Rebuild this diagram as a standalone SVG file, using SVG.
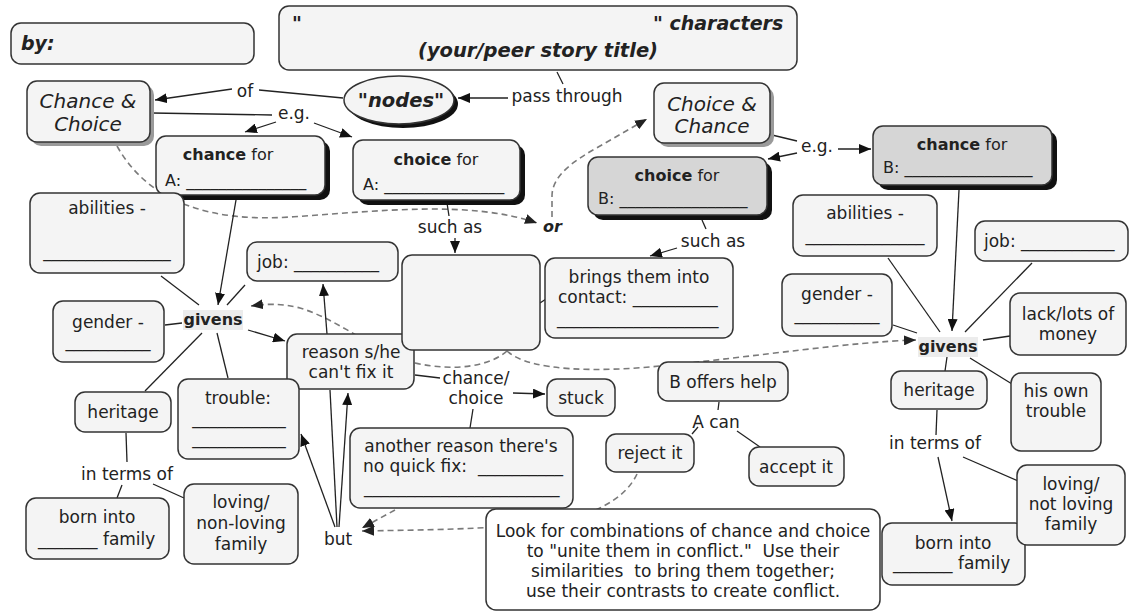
<svg xmlns="http://www.w3.org/2000/svg" width="1129" height="613" viewBox="0 0 1129 613">
<defs>
<marker id="arr" viewBox="0 0 12 10" refX="12" refY="5" markerWidth="12" markerHeight="10" markerUnits="userSpaceOnUse" orient="auto"><path d="M0,0 L12,5 L0,10 z" fill="#111"/></marker>
<marker id="arrd" viewBox="0 0 12 10" refX="12" refY="5" markerWidth="12" markerHeight="10" markerUnits="userSpaceOnUse" orient="auto"><path d="M0,0 L12,5 L0,10 z" fill="#222"/></marker>
</defs>
<style>
.n{fill:#f4f4f4;stroke:#333;stroke-width:1.5}
.gr{fill:#d6d6d6;stroke:#333;stroke-width:1.5}
.w{fill:#fff;stroke:#333;stroke-width:1.5}
.sh{fill:#111}
.ls{fill:#9a9a9a}
text{font-family:"DejaVu Sans",Verdana,sans-serif;font-size:17px;fill:#222}
.c{text-anchor:middle}
.b{font-weight:bold}
.bi{font-weight:bold;font-style:italic}
.it{font-style:italic}
.s16{font-size:16px}
.ln{stroke:#222;stroke-width:1.3;fill:none}
.da{stroke:#7a7a7a;stroke-width:1.6;stroke-dasharray:6 4;fill:none}
</style>
<rect width="1129" height="613" fill="#fff"/>

<g id="connectors">
<path class="da" d="M117,146 C150,205 215,222 290,217 C380,211 470,200 537,223" marker-end="url(#arrd)"/>
<path class="da" d="M552,217 L552,196 C552,175 575,160 600,146 L647,119" marker-end="url(#arrd)"/>
<path class="da" d="M507,351 C490,366 455,372 415,363 C380,355 340,320 300,308 C280,303 265,304 251,306" marker-end="url(#arrd)"/>
<path class="da" d="M507,351 C530,372 600,372 660,366 C760,356 850,342 916,340" marker-end="url(#arrd)"/>
<path class="da" d="M637,474 C625,500 590,518 540,524 C470,530 410,530 362,531" marker-end="url(#arrd)"/>
<path class="da" d="M395,510 L362,528" marker-end="url(#arrd)"/>

<line class="ln" x1="343" y1="98" x2="259" y2="90"/>
<line class="ln" x1="232" y1="89" x2="155" y2="100" marker-end="url(#arr)"/>
<line class="ln" x1="152" y1="113" x2="272" y2="115"/>
<line class="ln" x1="276" y1="122" x2="245" y2="132" marker-end="url(#arr)"/>
<line class="ln" x1="314" y1="123" x2="352" y2="137" marker-end="url(#arr)"/>
<line class="ln" x1="557" y1="72" x2="563" y2="84"/>
<line class="ln" x1="508" y1="98" x2="458" y2="98" marker-end="url(#arr)"/>
<line class="ln" x1="772" y1="135" x2="797" y2="141"/>
<line class="ln" x1="838" y1="149" x2="871" y2="149" marker-end="url(#arr)"/>
<line class="ln" x1="797" y1="153" x2="768" y2="159" marker-end="url(#arr)"/>
<line class="ln" x1="447" y1="203" x2="449" y2="216"/>
<line class="ln" x1="455" y1="238" x2="455" y2="253" marker-end="url(#arr)"/>
<line class="ln" x1="702" y1="220" x2="706" y2="229"/>
<line class="ln" x1="677" y1="248" x2="650" y2="256" marker-end="url(#arr)"/>
<line class="ln" x1="236" y1="200" x2="218" y2="305" marker-end="url(#arr)"/>
<line class="ln" x1="199" y1="305" x2="161" y2="276"/>
<line class="ln" x1="227" y1="305" x2="245" y2="285"/>
<line class="ln" x1="182" y1="323" x2="165" y2="325"/>
<line class="ln" x1="202" y1="333" x2="145" y2="391"/>
<line class="ln" x1="217" y1="333" x2="228" y2="378"/>
<line class="ln" x1="248" y1="330" x2="285" y2="341" marker-end="url(#arr)"/>
<line class="ln" x1="327" y1="334" x2="323" y2="284" marker-end="url(#arr)"/>
<line class="ln" x1="415" y1="375" x2="440" y2="378"/>
<line class="ln" x1="513" y1="393" x2="545" y2="394" marker-end="url(#arr)"/>
<line class="ln" x1="473" y1="409" x2="470" y2="428"/>
<line class="ln" x1="330" y1="390" x2="337" y2="527"/>
<line class="ln" x1="339" y1="527" x2="348" y2="393" marker-end="url(#arr)"/>
<line class="ln" x1="335" y1="527" x2="301" y2="434" marker-end="url(#arr)"/>
<line class="ln" x1="126" y1="433" x2="127" y2="462"/>
<line class="ln" x1="122" y1="485" x2="117" y2="498"/>
<line class="ln" x1="153" y1="484" x2="184" y2="498"/>
<line class="ln" x1="540" y1="303" x2="546" y2="299"/>
<line class="ln" x1="719" y1="402" x2="718" y2="410"/>
<line class="ln" x1="698" y1="427" x2="692" y2="434"/>
<line class="ln" x1="737" y1="431" x2="760" y2="447"/>
<line class="ln" x1="959" y1="190" x2="952" y2="331" marker-end="url(#arr)"/>
<line class="ln" x1="888" y1="258" x2="940" y2="332"/>
<line class="ln" x1="1032" y1="263" x2="965" y2="332"/>
<line class="ln" x1="893" y1="325" x2="917" y2="333"/>
<line class="ln" x1="983" y1="340" x2="1010" y2="336"/>
<line class="ln" x1="970" y1="358" x2="1012" y2="384"/>
<line class="ln" x1="947" y1="357" x2="945" y2="371"/>
<line class="ln" x1="937" y1="410" x2="936" y2="435"/>
<line class="ln" x1="938" y1="457" x2="952" y2="521" marker-end="url(#arr)"/>
<line class="ln" x1="963" y1="457" x2="1018" y2="481"/>
</g>

<g id="by"><rect class="n" x="11" y="23" width="243" height="41" rx="10"/><text class="bi" x="21" y="50" style="font-size:19px">by:</text></g>

<g id="title"><rect class="n" x="279" y="6" width="518" height="64" rx="10"/>
<text class="bi" x="292" y="30" style="font-size:19px">"</text>
<text class="bi" x="653" y="30" style="font-size:19px">" characters</text>
<text class="bi c" x="538" y="57" style="font-size:19.5px">(your/peer story title)</text></g>

<g id="chance-choice"><rect class="ls" x="31" y="85" width="123" height="61" rx="10"/><rect class="n" x="27" y="81" width="123" height="61" rx="10"/>
<text class="it c" x="88" y="108" style="font-size:20px">Chance &amp;</text><text class="it c" x="88" y="131" style="font-size:20px">Choice</text></g>

<g id="nodes"><ellipse class="sh" cx="403" cy="104" rx="55" ry="24"/><ellipse class="n" cx="399" cy="100" rx="55" ry="24"/>
<text class="bi c" x="401" y="107" style="font-size:19.5px">"nodes"</text></g>

<g id="choice-chance"><rect class="ls" x="658" y="87" width="116" height="60" rx="10"/><rect class="n" x="654" y="83" width="116" height="60" rx="10"/>
<text class="it c" x="712" y="111" style="font-size:20px">Choice &amp;</text><text class="it c" x="712" y="133" style="font-size:20px">Chance</text></g>

<g id="chance-A"><rect class="sh" x="161" y="141" width="169" height="59" rx="10"/><rect class="n" x="156" y="136" width="169" height="59" rx="10"/>
<text class="c s16" x="228" y="160"><tspan class="b">chance</tspan> for</text><text class="s16" x="165" y="186">A: _______________</text></g>

<g id="choice-A"><rect class="sh" x="358" y="145" width="167" height="60" rx="10"/><rect class="n" x="353" y="140" width="167" height="60" rx="10"/>
<text class="c s16" x="436" y="165"><tspan class="b">choice</tspan> for</text><text class="s16" x="363" y="190">A: _______________</text></g>

<g id="choice-B"><rect class="sh" x="593" y="162" width="179" height="58" rx="10"/><rect class="gr" x="588" y="157" width="179" height="58" rx="10"/>
<text class="c s16" x="677" y="181"><tspan class="b">choice</tspan> for</text><text class="s16" x="598" y="204">B: ________________</text></g>

<g id="chance-B"><rect class="sh" x="878" y="131" width="179" height="59" rx="10"/><rect class="gr" x="873" y="126" width="179" height="59" rx="10"/>
<text class="c s16" x="962" y="150"><tspan class="b">chance</tspan> for</text><text class="s16" x="883" y="173">B: ________________</text></g>

<g id="such-as-A"><text class="c" x="450" y="233">such as</text></g>
<g id="or"><text class="bi" x="543" y="232" style="font-size:16px">or</text></g>
<g id="such-as-B"><text class="c" x="713" y="247">such as</text></g>
<g id="of"><text class="c" x="245" y="97">of</text></g>
<g id="eg-A"><text class="c" x="294" y="119">e.g.</text></g>
<g id="eg-B"><text class="c" x="817" y="152">e.g.</text></g>
<g id="pass-through"><text class="c" x="567" y="102">pass through</text></g>

<g id="abilities-A"><rect class="n" x="30" y="193" width="154" height="80" rx="10"/>
<text class="c" x="107" y="214">abilities -</text><text class="c" x="107" y="257">_______________</text></g>

<g id="job-A"><rect class="n" x="247" y="242" width="151" height="39" rx="10"/><text x="257" y="268">job: __________</text></g>

<g id="givens-A"><rect x="183" y="310" width="60" height="20" fill="#ececec"/><text class="b c s16" x="213" y="325">givens</text></g>

<g id="gender-A"><rect class="n" x="53" y="301" width="111" height="61" rx="10"/>
<text class="c" x="108" y="328">gender -</text><text class="c" x="108" y="347">__________</text></g>

<g id="reason"><rect class="n" x="287" y="334" width="127" height="55" rx="10"/>
<text class="c" x="351" y="358">reason s/he</text><text class="c" x="351" y="378">can't fix it</text></g>

<g id="heritage-A"><rect class="n" x="75" y="392" width="96" height="40" rx="10"/><text class="c" x="123" y="418">heritage</text></g>

<g id="trouble"><rect class="n" x="178" y="379" width="121" height="80" rx="10"/>
<text class="c" x="238" y="404">trouble:</text><text class="c" x="239" y="424">___________</text><text class="c" x="239" y="444">___________</text></g>

<g id="in-terms-A"><text class="c" x="127" y="480">in terms of</text></g>

<g id="born-A"><rect class="n" x="26" y="498" width="143" height="61" rx="10"/>
<text class="c" x="97" y="523">born into</text><text x="38" y="545">_______ family</text></g>

<g id="loving-A"><rect class="n" x="184" y="484" width="114" height="80" rx="10"/>
<text class="c" x="241" y="508">loving/</text><text class="c" x="241" y="529">non-loving</text><text class="c" x="241" y="550">family</text></g>

<g id="but"><text class="c" x="338" y="545">but</text></g>

<g id="empty"><rect class="n" x="402" y="255" width="138" height="95" rx="10"/></g>

<g id="brings"><rect class="n" x="545" y="258" width="188" height="80" rx="10"/>
<text class="c" x="639" y="283">brings them into</text><text x="558" y="303">contact: __________</text><text x="557" y="324">___________________</text></g>

<g id="chance-choice-label"><text class="c" x="476" y="384">chance/</text><text class="c" x="476" y="404">choice</text></g>

<g id="stuck"><rect class="n" x="547" y="379" width="68" height="37" rx="10"/><text class="c" x="581" y="404">stuck</text></g>

<g id="another"><rect class="n" x="350" y="428" width="223" height="80" rx="10"/>
<text class="c" x="461" y="452">another reason there's</text><text x="363" y="472">no quick fix:</text><text x="478" y="472">__________</text><text x="364" y="493">_______________________</text></g>

<g id="offers"><rect class="n" x="658" y="362" width="130" height="39" rx="10"/><text class="c" x="723" y="388">B offers help</text></g>
<g id="a-can"><text class="c" x="716" y="428">A can</text></g>
<g id="reject"><rect class="n" x="606" y="434" width="88" height="38" rx="10"/><text class="c" x="650" y="459">reject it</text></g>
<g id="accept"><rect class="n" x="749" y="447" width="95" height="39" rx="10"/><text class="c" x="796" y="473">accept it</text></g>

<g id="look"><rect class="w" x="486" y="509" width="394" height="101" rx="10"/>
<text class="c" x="683" y="537" xml:space="preserve">Look for combinations of chance and choice</text>
<text class="c" x="683" y="557" xml:space="preserve">to "unite them in conflict."  Use their</text>
<text class="c" x="683" y="577" xml:space="preserve">similarities  to bring them together;</text>
<text class="c" x="683" y="597">use their contrasts to create conflict.</text></g>

<g id="abilities-B"><rect class="n" x="793" y="195" width="144" height="61" rx="10"/>
<text class="c" x="865" y="219">abilities -</text><text class="c" x="865" y="241">______________</text></g>

<g id="job-B"><rect class="n" x="975" y="221" width="153" height="40" rx="10"/><text x="984" y="247">job: ___________</text></g>

<g id="gender-B"><rect class="n" x="782" y="274" width="110" height="62" rx="10"/>
<text class="c" x="837" y="300">gender -</text><text class="c" x="837" y="320">__________</text></g>

<g id="givens-B"><rect x="918" y="337" width="60" height="20" fill="#ececec"/><text class="b c s16" x="948" y="352">givens</text></g>

<g id="money"><rect class="n" x="1010" y="293" width="116" height="62" rx="10"/>
<text class="c" x="1068" y="320">lack/lots of</text><text class="c" x="1068" y="340">money</text></g>

<g id="heritage-B"><rect class="n" x="891" y="371" width="96" height="38" rx="10"/><text class="c" x="939" y="396">heritage</text></g>

<g id="own-trouble"><rect class="n" x="1011" y="373" width="90" height="78" rx="10"/>
<text class="c" x="1056" y="397">his own</text><text class="c" x="1056" y="417">trouble</text></g>

<g id="in-terms-B"><text class="c" x="935" y="449">in terms of</text></g>

<g id="born-B"><rect class="n" x="882" y="523" width="143" height="62" rx="10"/>
<text class="c" x="953" y="549">born into</text><text x="893" y="569">_______ family</text></g>

<g id="loving-B"><rect class="n" x="1017" y="465" width="108" height="80" rx="10"/>
<text class="c" x="1071" y="490">loving/</text><text class="c" x="1071" y="510">not loving</text><text class="c" x="1071" y="530">family</text></g>
</svg>
